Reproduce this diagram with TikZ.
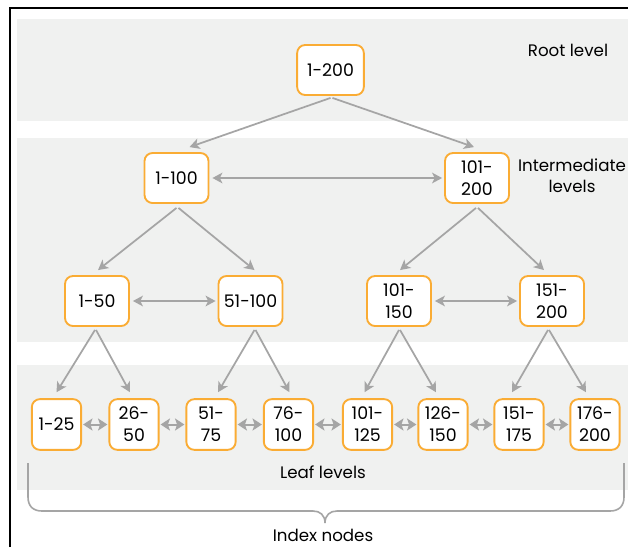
\documentclass[tikz,border=0pt]{standalone}
\usepackage{fontspec}
\setmainfont{Poppins}
\usetikzlibrary{arrows.meta,calc}
\definecolor{bandgray}{RGB}{240,241,240}
\definecolor{boxorange}{RGB}{250,172,52}
\definecolor{arrgray}{RGB}{165,165,165}
\begin{document}
\begin{tikzpicture}[x=0.75pt,y=-0.75pt,
  band/.style={fill=bandgray, draw=none},
  box/.style={draw=boxorange, line width=1.4pt, fill=white, rounded corners=6pt,
    inner sep=0pt, align=center, font=\fontsize{13}{16.5}\selectfont},
  midbox/.style={box, minimum width=48pt, minimum height=37.5pt},
  leafbox/.style={box, minimum width=37pt, minimum height=38pt},
  lbl/.style={align=center, font=\fontsize{12.5}{15.5}\selectfont, inner sep=0pt},
  arr/.style={draw=arrgray, line width=1.3pt, -{Stealth[length=7.5pt,width=8pt,inset=2pt]}},
  darr/.style={draw=arrgray, line width=1.3pt, {Stealth[length=7.5pt,width=8pt,inset=2pt]}-{Stealth[length=7.5pt,width=8pt,inset=2pt]}},
  sdarr/.style={draw=arrgray, line width=1.5pt, {Stealth[length=7pt,width=9pt,inset=1.5pt]}-{Stealth[length=7pt,width=9pt,inset=1.5pt]}},
  brace/.style={draw=arrgray, line width=1.2pt}
]
\useasboundingbox (0,0) rectangle (628,547);
\fill[white] (0,0) rectangle (628,547);
% bands
\fill[band] (17,19) rectangle (628,121);
\fill[band] (17,138) rectangle (628,342);
\fill[band] (17,365) rectangle (628,490);
% frame
\draw[line width=2.2pt] (10,547) -- (10,8) -- (628,8);

% nodes
\node[box, minimum width=50pt, minimum height=37.5pt] (r) at (330.5,70) {1-200};
\node[midbox] (n1) at (176.5,178) {1-100};
\node[midbox] (n2) at (477,178) {101-\\200};
\node[midbox] (m1) at (97,301) {1-50};
\node[midbox] (m2) at (250.5,301) {51-100};
\node[midbox] (m3) at (399,301) {101-\\150};
\node[midbox] (m4) at (552,301) {151-\\200};
\node[leafbox] (l1) at (56.5,424.5) {1-25};
\node[leafbox] (l2) at (134,424.5) {26-\\50};
\node[leafbox] (l3) at (211,424.5) {51-\\75};
\node[leafbox] (l4) at (288.5,424.5) {76-\\100};
\node[leafbox] (l5) at (367.5,424.5) {101-\\125};
\node[leafbox] (l6) at (443,424.5) {126-\\150};
\node[leafbox] (l7) at (519,424.5) {151-\\175};
\node[leafbox] (l8) at (595,424.5) {176-\\200};

% labels
\node[lbl] (tRoot) at (568,50) {Root level};
\node[lbl] (tInt) at (572,176) {Intermediate\\levels};
\node[lbl] (tLeaf) at (323,472) {Leaf levels};
\node[lbl] (tIdx) at (323,535) {Index nodes};

% root arrows
\draw[arr] ($(r.south)+(0,2)$) -- ($(n1.north)+(13,-5)$);
\draw[arr] ($(r.south)+(2,2)$) -- ($(n2.north)+(-3,-5)$);
\draw[darr] ($(n1.east)+(3,0)$) -- ($(n2.west)+(-2,0)$);
% intermediate arrows
\draw[arr] ($(n1.south)+(0,4)$) -- ($(m1.north)+(1,-5)$);
\draw[arr] ($(n1.south)+(2,4)$) -- ($(m2.north)+(4,-5)$);
\draw[arr] ($(n2.south)+(-1,4)$) -- ($(m3.north)+(1,-5)$);
\draw[arr] ($(n2.south)+(1,4)$) -- ($(m4.north)+(-8,-5)$);
\draw[darr] ($(m1.east)+(3,0)$) -- ($(m2.west)+(-2,0)$);
\draw[darr] ($(m3.east)+(3,0)$) -- ($(m4.west)+(-2,0)$);
% leaf arrows
\draw[arr] ($(m1.south)+(-2,3)$) -- ($(l1.north)+(0,-6)$);
\draw[arr] ($(m1.south)+(-1,3)$) -- ($(l2.north)+(-4,-6)$);
\draw[arr] ($(m2.south)+(4,3)$) -- ($(l3.north)+(7,-6)$);
\draw[arr] ($(m2.south)+(5,3)$) -- ($(l4.north)+(1,-6)$);
\draw[arr] ($(m3.south)+(0,3)$) -- ($(l5.north)+(-3,-6)$);
\draw[arr] ($(m3.south)+(1,3)$) -- ($(l6.north)+(-7,-6)$);
\draw[arr] ($(m4.south)+(-4,3)$) -- ($(l7.north)+(-7,-6)$);
\draw[arr] ($(m4.south)+(-3,3)$) -- ($(l8.north)+(-9,-6)$);
\foreach \a/\b in {l1/l2,l2/l3,l3/l4,l4/l5,l5/l6,l6/l7,l7/l8}
  \draw[sdarr] ($(\a.east)+(1,0)$) -- ($(\b.west)+(-1,0)$);

% brace
\coordinate (bL) at (28,463);
\coordinate (bR) at (624,463);
\coordinate (bT) at (325,523);
\draw[brace] (bL) -- (28,497) .. controls (28,506) and (33,511) .. (42,511)
  -- (313,511) .. controls (320,511) and (325,515) .. (bT)
  .. controls (325,515) and (330,511) .. (337,511)
  -- (610,511) .. controls (619,511) and (624,506) .. (624,497) -- (bR);
\end{tikzpicture}
\end{document}
